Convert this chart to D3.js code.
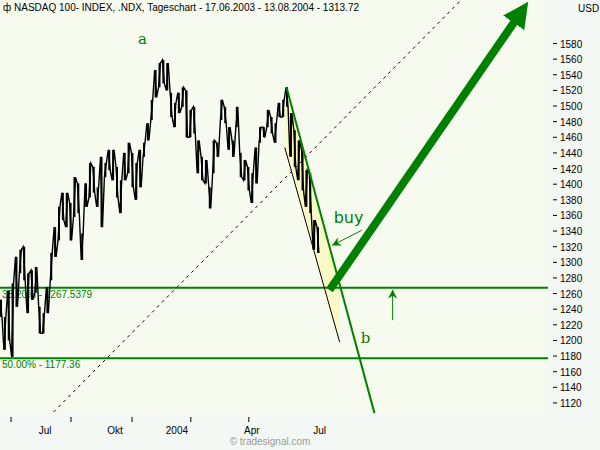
<!DOCTYPE html>
<html><head><meta charset="utf-8">
<script src="https://cdn.jsdelivr.net/npm/d3@7"></script>
<style>body{margin:0;background:#f4f8f4}svg{display:block}</style>
</head><body><svg id="c" width="600" height="450"></svg>
<script>
const highs=[1252,1230,1264,1273,1307,1316,1320,1286,1290,1294,1243,1235,1268,1312,1345,1371,1389,1389,1376,1409,1401,1337,1401,1427,1422,1396,1435,1427,1444,1444,1422,1405,1440,1453,1440,1427,1444,1453,1478,1508,1546,1555,1559,1555,1517,1504,1517,1524,1520,1495,1499,1456,1435,1431,1396,1456,1453,1508,1499,1473,1456,1499,1440,1431,1422,1414,1447,1473,1473,1495,1486,1478,1504,1508,1524,1491,1469,1456,1444,1418,1414,1354,1345];
const lows=[1230,1188,1200,1179,1243,1286,1277,1235,1252,1261,1209,1209,1235,1277,1307,1328,1354,1345,1328,1358,1363,1303,1371,1383,1389,1371,1345,1409,1418,1405,1383,1363,1405,1414,1396,1380,1396,1435,1456,1482,1511,1524,1529,1520,1486,1473,1491,1499,1460,1460,1465,1414,1405,1401,1369,1414,1435,1482,1478,1444,1435,1473,1409,1405,1392,1376,1401,1453,1460,1473,1465,1453,1486,1486,1499,1435,1422,1405,1392,1371,1363,1316,1312];
const yTicks=d3.range(1120,1581,20);
const xTickIdx=[2.6,18.1,33.9,49.1,64.1];
const xLabels=["Jul","Okt","2004","Apr","Jul"];
const xLabelIdx=[11.4,29.5,45.5,64.9,82.4];
const fibLevels=[{p:1267.5379,t:"38.20% - 1267.5379"},{p:1177.36,t:"50.00% - 1177.36"}];
const trendDashed=[[24.3,1162],[75.5,1418]];
const channelUpper=[[73.9,1523],[96.6,1107]];
const channelLower=[[73.4,1447],[87.6,1198]];
const bigArrow=[[85,1264.5],[134.5,1620]];
const buyArrow=[[93.3,1341],[85.8,1322]];
const upArrow=[[101.3,1226],[101.3,1264]];

const G="#008000", W=548, H=414;
const svg=d3.select("#c");
const x=d3.scaleLinear().domain([0,82]).range([1,318]);
const y=d3.scaleLinear().domain([1104.6,1635.7]).range([415,0]);
svg.append("rect").attr("width",W).attr("height",H).attr("fill","#f7fbef");
const defs=svg.append("defs");
defs.append("clipPath").attr("id","cp").append("rect").attr("width",W).attr("height",H);
defs.append("marker").attr("id","bh").attr("viewBox","0 0 10 10").attr("refX",5).attr("refY",5)
 .attr("markerWidth",3.2).attr("markerHeight",3.2).attr("orient","auto")
 .append("path").attr("d","M0,0L10,5L0,10z").attr("fill",G);
defs.append("marker").attr("id","sh").attr("viewBox","0 0 10 10").attr("refX",9).attr("refY",5)
 .attr("markerWidth",9).attr("markerHeight",9).attr("markerUnits","userSpaceOnUse").attr("orient","auto")
 .append("path").attr("d","M0,0L10,5L0,10L3,5z").attr("fill",G);
const g=svg.append("g").attr("clip-path","url(#cp)");
function ext(l,k){const [a,b]=l;const dx=b[0]-a[0],dy=b[1]-a[1];return [[a[0]-dx*k,a[1]-dy*k],[b[0]+dx*k,b[1]+dy*k]];}
const ln=d3.line().x(d=>x(d[0])).y(d=>y(d[1]));
function onLine(l,i){const [a,b]=l;return a[1]+(b[1]-a[1])*(i-a[0])/(b[0]-a[0]);}
const i0=73.4,i1=87.6;
const poly=[[i0,onLine(channelUpper,channelUpper[0][0])],[channelUpper[0][0],channelUpper[0][1]],[i1,onLine(channelUpper,i1)],[i1,channelLower[1][1]],[i0,channelLower[0][1]]];
g.append("path").attr("d",ln(poly)+"Z").attr("fill","#fbf9c6");
g.append("path").attr("d",ln(ext(trendDashed,2))).attr("stroke","#000").attr("stroke-dasharray","3,4").attr("fill","none");
fibLevels.forEach(f=>{
 g.append("line").attr("x1",0).attr("x2",W).attr("y1",y(f.p)).attr("y2",y(f.p)).attr("stroke",G).attr("stroke-width",2);
 g.append("text").attr("x",2).attr("y",y(f.p)+10).attr("fill",G).attr("font-family","Liberation Sans,Arial").attr("font-size",10).text(f.t);
});
const idx=d3.range(highs.length);
const zig=[];idx.forEach(i=>{zig.push([i-0.25,i%2?lows[i]:highs[i]]);zig.push([i+0.25,i%2?highs[i]:lows[i]]);});
g.append("path").attr("d",ln(zig)).attr("fill","none").attr("stroke","#000").attr("stroke-width",1.4);
g.selectAll(".b").data(idx).join("line").attr("x1",i=>x(i)).attr("x2",i=>x(i)).attr("y1",i=>y(lows[i])).attr("y2",i=>y(highs[i])).attr("stroke","#000").attr("stroke-width",2);
g.append("path").attr("d",ln(channelLower)).attr("stroke","#000").attr("fill","none");
g.append("path").attr("d",ln(channelUpper)).attr("stroke",G).attr("stroke-width",2).attr("fill","none");
g.append("path").attr("d",ln(bigArrow)).attr("stroke",G).attr("stroke-width",8).attr("marker-end","url(#bh)").attr("fill","none");
g.append("path").attr("d",ln(buyArrow)).attr("stroke",G).attr("stroke-width",1).attr("marker-end","url(#sh)").attr("fill","none");
g.append("path").attr("d",ln(upArrow)).attr("stroke",G).attr("stroke-width",1).attr("marker-end","url(#sh)").attr("fill","none");
const serif="DejaVu Serif,Liberation Serif,serif";
g.append("text").attr("x",x(36.6)).attr("y",y(1580)).attr("fill",G).attr("font-family",serif).attr("font-size",15).attr("text-anchor","middle").text("a");
g.append("text").attr("x",x(94.3)).attr("y",y(1197)).attr("fill",G).attr("font-family",serif).attr("font-size",15).attr("text-anchor","middle").text("b");
g.append("text").attr("x",x(89.9)).attr("y",y(1350)).attr("fill",G).attr("font-family","DejaVu Sans,Arial").attr("font-size",16).attr("text-anchor","middle").text("buy");
const font="Liberation Sans,Arial";
const ya=svg.append("g");
yTicks.forEach(t=>{
 ya.append("line").attr("x1",553).attr("x2",557).attr("y1",y(t)).attr("y2",y(t)).attr("stroke","#000");
 ya.append("text").attr("x",560).attr("y",y(t)+4).attr("font-family",font).attr("font-size",10).text(t);
});
ya.append("text").attr("x",578).attr("y",12).attr("font-family",font).attr("font-size",10).text("USD");
xTickIdx.forEach(t=>svg.append("line").attr("x1",x(t)).attr("x2",x(t)).attr("y1",417).attr("y2",422).attr("stroke","#000"));
xLabels.forEach((l,i)=>svg.append("text").attr("x",x(xLabelIdx[i])).attr("y",434).attr("text-anchor","middle").attr("font-family",font).attr("font-size",10).text(l));
svg.append("text").attr("x",270).attr("y",445).attr("text-anchor","middle").attr("font-family",font).attr("font-size",10).attr("fill","#999").text("© tradesignal.com");
svg.append("text").attr("x",3).attr("y",11).attr("font-family",font).attr("font-size",10).text("ф  NASDAQ 100- INDEX, .NDX, Tageschart - 17.06.2003 - 13.08.2004 - 1313.72");
</script></body></html>
